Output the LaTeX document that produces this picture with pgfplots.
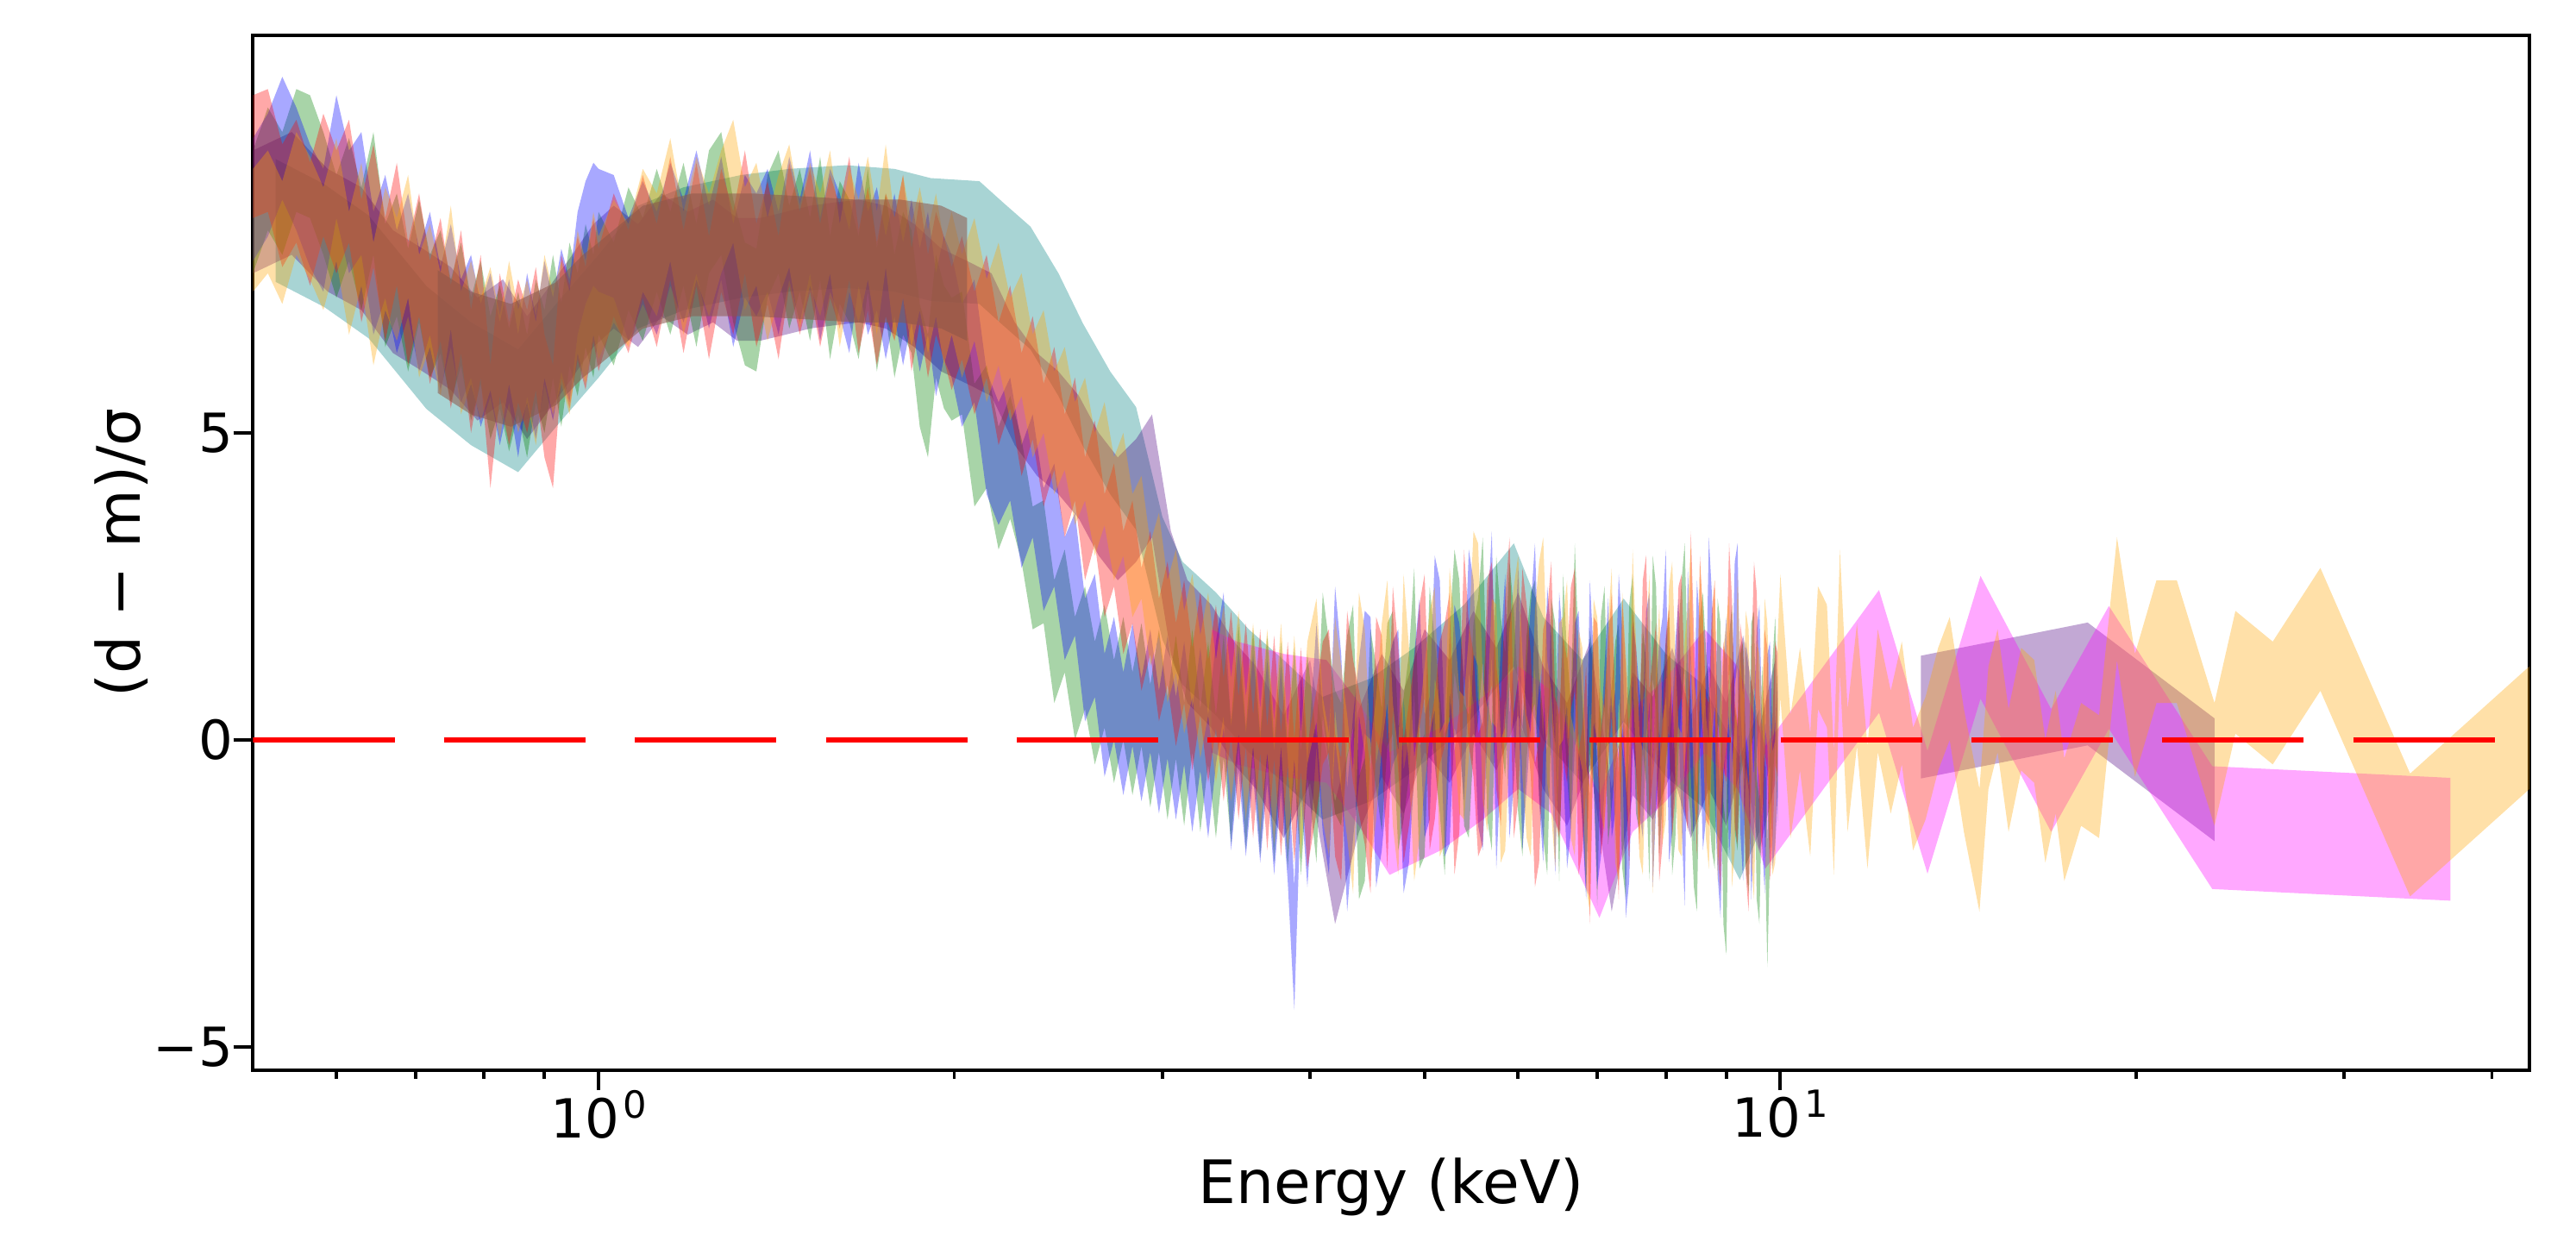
\documentclass[border=0pt]{standalone}
\usepackage{fontspec}
\setmainfont{DejaVu Sans}
\usepackage{pgfplots}
\pgfplotsset{compat=1.18}
\usepackage{pgfplotstable}
\usepgfplotslibrary{fillbetween}
\definecolor{mred}{rgb}{1,0,0}
\definecolor{mblue}{rgb}{0,0,1}
\definecolor{mgreen}{rgb}{0,0.502,0}
\definecolor{mteal}{rgb}{0,0.502,0.502}
\definecolor{morange}{rgb}{1,0.647,0}
\definecolor{mindigo}{rgb}{0.294,0,0.510}
\definecolor{mmagenta}{rgb}{1,0,1}
\definecolor{mbrown}{HTML}{8C564B}

\newcommand{\band}[5][0.34]{%
 \addplot[draw=none, name path=#5U, forget plot] table[x=E, y expr=\thisrow{#3}+1] {#2};
 \addplot[draw=none, name path=#5L, forget plot] table[x=E, y expr=\thisrow{#3}-1] {#2};
 \addplot[fill=#4, fill opacity=#1, draw=none, forget plot] fill between[of=#5U and #5L];
}

\pgfplotstableread{
E r b g o
0.510 9.5 8.8 8.6 8.3
0.525 9.6 9.2 9.3 8.6
0.540 8.7 9.8 8.9 8.1
0.555 9.1 9.3 9.6 8.9
0.570 8.4 8.7 9.5 8.5
0.585 9.2 8.3 8.9 8.0
0.600 8.6 9.5 8.2 8.8
0.615 9.1 8.6 8.8 7.6
0.630 7.8 8.9 8.0 8.4
0.645 8.7 7.6 8.9 7.1
0.660 7.5 8.2 7.4 8.0
0.675 8.4 7.3 7.9 7.5
0.690 7.1 7.9 7.0 8.2
0.705 7.9 7.0 7.8 6.9
0.720 6.8 7.6 6.9 7.4
0.735 7.5 6.7 7.3 6.6
0.750 6.4 7.4 6.5 7.7
0.765 7.3 6.5 7.1 6.3
0.780 6.0 6.9 6.2 6.8
0.795 6.9 6.1 6.8 6.2
0.810 5.1 6.6 5.9 6.7
0.825 6.6 5.8 6.4 5.9
0.840 5.8 6.5 5.7 6.8
0.855 6.5 5.6 6.3 6.0
0.870 6.0 6.6 5.6 6.5
0.885 6.7 5.9 6.5 5.8
0.900 5.6 6.8 6.0 6.9
0.915 5.1 6.2 6.9 6.3
0.930 6.9 7.0 6.1 6.8
0.945 6.4 6.5 7.1 6.3
0.960 7.2 7.6 6.6 7.3
0.975 6.7 8.1 7.4 6.8
0.990 7.5 8.4 6.9 7.6
1.00 7.0 8.3 7.6 7.2
1.03 7.9 8.2 7.1 7.8
1.06 7.3 7.5 8.0 7.4
1.09 8.2 8.1 7.5 8.3
1.12 7.4 7.6 8.3 7.9
1.15 8.5 8.4 7.6 8.8
1.18 7.3 7.8 8.4 7.6
1.21 8.4 8.6 7.4 8.5
1.24 7.2 7.7 8.6 7.9
1.27 8.3 8.5 8.9 8.6
1.30 7.6 7.4 7.8 9.1
1.33 8.6 8.2 7.1 8.0
1.36 7.4 7.9 7.0 8.4
1.39 8.1 8.3 8.2 7.5
1.42 7.2 7.6 8.6 8.2
1.45 8.4 8.5 7.7 8.7
1.48 7.6 7.8 8.3 7.7
1.51 8.3 8.6 7.5 8.4
1.54 7.4 7.5 8.5 7.9
1.57 8.2 8.3 7.2 8.6
1.60 7.7 7.9 8.1 7.4
1.63 8.5 7.3 7.8 8.3
1.66 7.3 8.4 7.2 7.8
1.69 8.0 7.6 8.3 8.5
1.72 7.1 8.0 7.0 7.6
1.75 7.9 7.2 7.9 8.7
1.78 7.5 7.9 6.9 7.5
1.81 8.2 7.1 7.6 8.2
1.84 7.0 7.8 7.3 7.4
1.87 7.8 7.0 6.1 8.0
1.90 6.9 7.6 5.6 7.3
1.93 7.6 6.6 6.9 7.9
1.96 7.2 7.2 6.4 7.1
1.99 6.7 6.9 6.2 7.6
2.03 7.2 6.1 6.3 6.9
2.08 6.3 6.5 4.8 7.5
2.13 6.9 5.0 5.1 6.5
2.18 5.8 4.5 4.1 7.1
2.23 6.4 4.9 4.6 6.2
2.28 5.3 3.8 3.9 6.6
2.33 5.9 4.3 2.8 5.6
2.38 4.8 3.1 2.9 6.0
2.43 5.4 3.5 1.6 5.0
2.48 4.3 2.3 2.1 5.4
2.53 4.9 2.7 1.0 4.5
2.58 3.6 1.3 1.5 4.9
2.63 4.2 1.7 0.6 4.0
2.68 3.0 0.4 1.2 4.5
2.73 3.5 1.0 0.3 3.6
2.78 2.4 0.1 1.0 4.0
2.83 2.9 0.9 0.1 3.0
2.88 1.8 0.0 0.9 3.3
2.93 2.4 0.8 -0.1 2.2
2.98 1.3 -0.2 0.8 2.7
3.03 1.9 0.7 -0.3 1.6
3.08 0.9 -0.3 0.7 2.1
3.13 1.6 0.6 -0.4 1.1
3.18 0.5 -0.5 0.8 1.7
3.23 1.4 0.5 -0.5 0.7
3.28 0.3 -0.6 0.6 1.4
3.33 1.2 0.6 -0.6 0.3
3.38 0.0 1.4 0.7 1.2
3.43 1.1 -0.8 -0.7 0.0
3.48 -0.3 0.5 0.9 1.1
3.53 0.9 -0.9 -0.8 -0.3
3.58 -0.6 0.4 0.8 0.9
3.63 0.8 -1.0 -0.9 -0.5
3.68 -0.8 0.3 0.7 0.8
3.73 0.7 -1.2 -1.0 -0.7
3.78 -0.9 0.2 0.6 0.9
3.83 0.6 -1.3 -1.1 -0.8
3.88 -1.0 -3.4 0.5 0.7
3.93 0.5 0.1 -1.2 -0.9
3.98 -1.1 -1.4 0.4 0.6
4.05 -0.2 0.9 -1.0 1.3
4.10 0.6 -0.5 1.4 -0.3
4.15 0.8 -1.2 0.6 -0.9
4.20 -0.9 1.5 -0.2 1.0
4.25 -1.3 0.4 -0.4 0.2
4.30 1.1 -1.8 0.7 -0.6
4.35 0.3 -0.6 1.2 -1.5
4.40 -0.2 0.3 -1.6 1.4
4.45 -0.7 1.1 -1.3 0.8
4.50 -1.5 1.0 0.8 -1.1
4.55 1.0 -1.4 0.2 -0.3
4.60 0.7 -0.8 -0.5 0.9
4.65 -1.1 0.2 0.9 1.6
4.70 1.5 0.6 1.1 -0.4
4.75 0.5 0.8 -0.8 -1.2
4.80 -1.0 -1.5 -0.3 1.7
4.85 -0.4 -1.0 0.4 0.5
4.90 0.3 0.4 1.8 -1.3
4.95 1.2 1.3 -1.1 -0.6
5.00 1.7 -0.6 -0.9 0.2
5.05 -0.8 -0.3 1.5 1.1
5.10 -0.3 2.0 0.6 1.5
5.15 0.6 1.6 -0.2 -0.9
5.20 0.9 -0.9 -1.2 -0.7
5.25 1.4 -0.7 0.8 1.8
5.30 -1.2 1.2 2.1 0.9
5.35 -0.5 0.9 1.6 -0.2
5.40 2.1 0.0 -0.4 -0.3
5.45 0.9 2.1 -0.6 0.7
5.50 0.4 1.6 0.9 2.4
5.55 -0.9 -0.4 1.3 2.2
5.60 -0.7 -0.8 2.3 0.0
5.65 1.6 1.0 -0.3 -0.5
5.70 1.9 2.4 -0.8 1.3
5.75 0.2 -1.1 2.0 1.2
5.80 -0.4 0.5 1.0 -1.0
5.85 1.3 1.7 0.4 -0.8
5.90 2.3 -0.6 1.9 0.8
5.95 -0.6 0.3 1.1 1.5
6.00 0.0 1.8 -0.2 2.0
6.05 1.8 -0.8 -0.9 0.4
6.10 1.2 0.2 0.7 -0.6
6.15 0.4 1.2 1.4 -0.9
6.20 -1.4 2.2 1.6 1.1
6.25 -1.0 0.0 0.1 1.9
6.30 0.8 -1.0 -0.6 2.3
6.35 1.1 1.5 -1.2 0.3
6.40 1.9 0.7 1.3 -0.2
6.45 -0.3 -1.2 0.9 -1.1
6.50 -0.6 1.4 -1.3 0.9
6.55 0.7 0.6 1.7 1.0
6.60 0.3 -1.1 0.4 1.6
6.65 1.5 -0.5 -0.4 -0.6
6.70 1.8 0.9 2.2 -0.9
6.75 -1.2 1.1 0.5 0.8
6.80 -0.8 -0.4 -0.3 0.5
6.85 0.2 -1.6 -1.5 -1.4
6.90 -2.0 1.6 0.8 -1.8
6.95 1.0 0.4 0.3 1.3
7.00 0.9 -1.4 -1.7 1.0
7.05 -0.9 -0.9 1.0 -0.2
7.10 -0.3 0.2 1.5 -0.5
7.15 0.6 1.3 -0.7 0.9
7.20 1.4 -0.6 -0.1 1.8
7.25 -0.4 -0.2 0.6 -1.0
7.30 -1.6 1.7 0.9 -1.3
7.35 1.3 0.8 -1.1 1.4
7.40 0.2 -1.9 -1.6 0.4
7.45 -1.1 -1.3 1.2 -0.5
7.50 1.1 0.9 1.7 2.1
7.55 0.5 0.5 -0.2 0.6
7.60 -0.8 -0.2 -0.5 -0.9
7.65 1.6 -0.6 0.8 -1.2
7.70 2.0 1.1 0.3 0.7
7.75 -0.2 1.4 -1.3 1.7
7.80 0.4 -1.4 2.0 -1.5
7.85 0.9 -0.1 1.5 0.1
7.90 -1.3 0.6 -0.9 1.2
7.95 -0.7 1.0 0.0 -0.7
8.00 0.7 2.1 0.6 -0.3
8.05 1.2 -1.0 1.1 1.5
8.10 -0.6 -0.5 -1.2 1.9
8.15 0.1 0.6 -0.6 0.4
8.20 1.5 1.3 0.8 -0.8
8.25 1.7 -0.4 1.6 -0.9
8.30 -0.1 -1.7 2.2 0.6
8.35 -0.5 1.8 0.2 1.2
8.40 2.4 0.4 -0.3 2.2
8.45 0.8 -0.7 -1.4 0.0
8.50 -0.9 1.6 -1.8 -0.4
8.55 2.0 0.9 1.0 1.9
8.60 1.0 -0.8 1.4 1.1
8.65 -0.3 -0.3 0.5 -0.6
8.70 -0.4 2.3 -0.1 -1.1
8.75 1.1 1.4 -0.8 0.8
8.80 1.6 0.0 -1.1 1.6
8.85 -0.8 -1.2 1.3 -1.3
8.90 -1.5 -1.9 0.9 -0.2
8.95 0.6 0.2 -2.0 0.5
9.00 0.3 1.0 -2.5 0.9
9.05 2.2 -0.9 0.7 1.4
9.10 1.3 -0.2 1.2 -1.4
9.15 -0.4 1.9 -0.5 -0.8
9.20 -0.7 2.2 -0.8 1.7
9.25 0.9 -0.5 0.4 0.3
9.30 0.5 -1.3 0.6 -0.3
9.35 -1.2 0.6 -1.1 1.1
9.40 -1.8 0.3 -1.5 0.8
9.45 0.3 -1.6 0.9 -1.0
9.50 1.9 -0.4 1.1 -1.6
9.55 1.4 0.8 -1.6 0.6
9.60 -0.2 1.2 -2.0 0.4
9.65 -0.9 -0.7 0.2 -0.4
9.70 0.8 -1.5 -0.6 1.3
9.75 0.5 0.4 -2.7 0.9
9.80 -1.3 0.6 -0.9 -0.5
9.85 -0.6 -1.1 0.3 -1.2
9.90 0.6 -0.7 1.0 -1.0
9.95 0.4 0.1 -0.4 0.7
}\fine

\pgfplotstableread{
E y
9.95 0.7
10.0 1.7
10.2 -0.6
10.39 0.5
10.6 -0.9
10.76 1.5
10.95 1.2
11.1 -1.2
11.23 2.1
11.4 -0.5
11.61 0.9
11.85 -1.1
12.09 0.8
12.4 -0.2
12.67 0.6
12.95 -0.8
13.27 -0.3
13.6 0.5
13.91 1.0
14.3 -0.5
14.74 -1.8
15.0 0.2
15.27 0.8
15.6 -0.5
15.99 0.5
16.4 0.3
16.76 -1.0
17.1 -0.2
17.39 -1.3
17.97 -0.4
18.61 -0.6
19.27 2.3
19.96 0.4
20.81 1.6
21.65 1.6
23.3 -0.4
24.27 1.1
26.1 0.6
28.64 1.8
34.11 -1.55
43.05 0.2
47.0 0.9
}\orangehi

\pgfplotstableread{
E y
0.533 8.46
0.586 8.05
0.639 7.54
0.715 6.39
0.78 5.8
0.855 5.36
0.93 6.2
1.0 6.9
1.08 7.7
1.18 8.0
1.32 8.2
1.45 8.3
1.62 8.36
1.78 8.3
1.91 8.15
2.10 8.1
2.20 7.75
2.32 7.36
2.45 6.6
2.57 5.78
2.71 5.0
2.85 4.42
3.0 2.63
3.12 1.9
3.33 1.4
3.55 0.8
3.8 0.3
4.1 -0.3
4.5 0.0
4.9 0.5
5.4 1.2
5.95 2.2
6.3 1.0
6.8 0.3
7.37 1.3
8.0 0.4
8.6 -0.1
9.24 -1.28
9.6 -0.5
}\tealtab

\pgfplotstableread{
E y
0.51 8.6
0.55 8.9
0.59 8.3
0.63 8.0
0.67 7.3
0.71 7.0
0.75 6.7
0.79 6.2
0.83 6.5
0.87 5.9
0.91 6.4
0.95 6.9
0.99 7.4
1.03 7.7
1.08 7.4
1.13 7.9
1.19 7.6
1.25 7.8
1.31 7.5
1.37 7.5
1.44 7.6
1.51 7.7
1.58 7.75
1.66 7.8
1.75 7.7
1.85 7.4
1.95 7.0
2.05 6.8
2.15 6.6
2.25 5.8
2.35 5.3
2.45 5.0
2.55 4.6
2.65 4.0
2.75 3.6
2.85 3.9
2.94 4.3
3.05 2.4
3.15 1.6
3.3 1.2
3.45 0.6
3.6 0.2
3.8 -0.6
4.0 0.3
4.2 -2.0
4.4 -0.5
4.6 0.4
4.8 -0.2
5.0 0.8
5.25 0.3
5.5 1.1
5.75 0.5
6.0 1.4
6.3 0.2
6.6 -0.4
6.9 0.6
7.2 -1.8
7.5 0.1
7.8 -0.3
8.1 0.5
8.4 -0.6
8.7 0.2
9.0 -0.4
9.3 0.7
9.6 -0.8
9.9 0.3
}\indigotab

\pgfplotstableread{
E y
13.15 0.37
18.2 0.91
23.3 -0.65
}\indigohi

\pgfplotstableread{
E y
0.731 6.65
0.78 6.3
0.843 6.1
0.92 6.45
0.97 6.9
1.0 7.1
1.09 7.7
1.2 7.9
1.35 7.9
1.5 7.85
1.65 7.8
1.8 7.8
1.95 7.7
2.05 7.5
}\browntab

\pgfplotstableread{
E y
3.30 0.8
3.47 0.6
3.8 0.4
4.13 0.3
4.4 -0.4
4.67 -1.2
5.16 -0.8
5.6 -0.3
6.0 0.2
6.4 -0.2
7.03 -1.9
7.5 -0.5
8.0 0.0
8.63 0.8
9.2 0.2
9.71 -1.1
12.12 1.44
13.32 -1.18
14.77 1.67
16.95 -0.5
18.97 1.18
23.2 -1.43
36.9 -1.62
}\magtab

\begin{document}
\begin{tikzpicture}
\begin{axis}[
 at={(0pt,0pt)}, anchor=south west,
 scale only axis, width=950.3pt, height=431.8pt,
 xmode=log, xmin=0.51, xmax=43.05, ymin=-5.38, ymax=11.47,
 axis line style={line width=1.4pt, black},
 tick pos=left, tick align=outside,
 xtick={1,10},
 xticklabels={{10\kern1.5pt\raisebox{0.37em}{\fontsize{15.6}{16}\selectfont 0}},{10\kern1.5pt\raisebox{0.37em}{\fontsize{15.6}{16}\selectfont 1}}},
 minor xtick={0.6,0.7,0.8,0.9,2,3,4,5,6,7,8,9,20,30,40},
 ytick={-5,0,5}, yticklabels={−5,0,5},
 major tick length=8.2pt, minor tick length=3.5pt,
 every tick/.style={black, line width=1.4pt},
 tick label style={font=\fontsize{22.5}{27}\selectfont, inner sep=0pt},
 xlabel={Energy (keV)}, ylabel={(d − m)/σ},
 label style={font=\fontsize{25}{30}\selectfont},
 xlabel style={at={(axis description cs:0.5,-0.1292)}, anchor=base},
 ylabel style={at={(axis description cs:-0.0579,0.5)}, anchor=center},
]
\band{\tealtab}{y}{mteal}{tea}
\band{\indigotab}{y}{mindigo}{ind}
\band{\indigohi}{y}{mindigo}{inh}
\band{\magtab}{y}{mmagenta}{mag}
\band{\fine}{g}{mgreen}{gre}
\band{\fine}{b}{mblue}{blu}
\band{\fine}{r}{mred}{red}
\band{\fine}{o}{morange}{ora}
\band{\orangehi}{y}{morange}{orh}
\band[0.55]{\browntab}{y}{mbrown}{bro}
\addplot[mred, line width=2pt, dash pattern=on 59.1pt off 20.6pt, forget plot] coordinates {(0.51,0) (43.05,0)};
\end{axis}
\pgfresetboundingbox
\path[use as bounding box] (-105.6pt,-71.3pt) rectangle (969.7pt,446.7pt);
\end{tikzpicture}
\end{document}
